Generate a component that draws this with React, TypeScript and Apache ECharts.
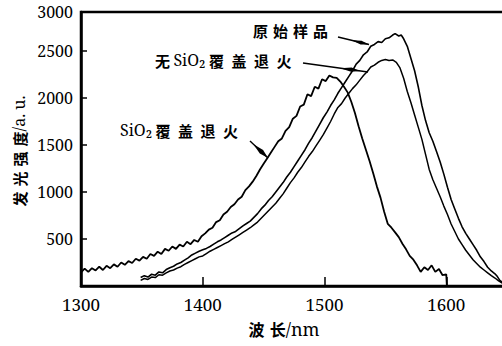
import React, { useEffect, useRef } from "react";
import * as echarts from "echarts";

// 波长 (nm) and 发光强度 (a.u.)
const waveA = [1300,1303,1306,1309,1312,1315,1318,1321,1324,1327,1330,1333,1336,1339,1342,1345,1348,1351,1354,1357,1360,1363,1366,1369,1372,1375,1378,1381,1384,1387,1390,1393,1396,1399,1402,1405,1408,1411,1414,1417,1420,1423,1426,1429,1432,1435,1438,1441,1444,1447,1450,1453,1456,1459,1462,1465,1468,1471,1474,1477,1480,1483,1486,1489,1492,1495,1498,1501,1504,1507,1510,1513,1516,1519,1522,1525,1528,1531,1534,1537,1540,1543,1546,1549,1552,1555,1558,1561,1564,1567,1570,1573,1576,1579,1582,1585,1588,1591,1594,1597,1600,1600.5];
const intensityA = [145,185,150,190,165,205,170,215,190,230,205,250,225,265,245,290,270,310,290,340,320,365,340,395,375,420,395,440,420,470,445,490,470,530,560,600,620,680,700,760,790,840,870,920,950,1020,1060,1110,1170,1240,1300,1360,1420,1480,1540,1570,1650,1690,1780,1810,1910,1930,2040,2020,2120,2100,2200,2180,2240,2220,2215,2175,2120,2060,1960,1840,1700,1570,1450,1330,1200,1060,940,790,660,620,570,520,450,390,320,280,220,150,200,170,220,150,180,115,125,0];

const waveB = [1349,1352,1355,1358,1361,1364,1367,1370,1373,1376,1379,1382,1385,1388,1391,1394,1397,1400,1403,1406,1409,1412,1415,1418,1421,1424,1427,1430,1433,1436,1439,1442,1445,1448,1451,1454,1457,1460,1463,1466,1469,1472,1475,1478,1481,1484,1487,1490,1493,1496,1499,1502,1505,1508,1511,1514,1517,1520,1523,1526,1529,1532,1535,1538,1541,1544,1547,1550,1553,1556,1558,1561,1563,1565,1568,1571,1574,1577,1580,1583,1586,1589,1592,1595,1598,1601,1604,1607,1610,1613,1616,1619,1622,1625,1628,1631,1634,1637,1640,1642,1644,1647];
const intensityB = [90,110,95,125,115,150,140,175,195,210,235,250,275,300,330,350,370,385,400,420,445,470,490,515,540,565,580,610,640,665,690,730,770,820,860,910,950,1000,1050,1100,1160,1210,1270,1330,1390,1450,1520,1580,1650,1720,1790,1850,1920,1980,2050,2110,2170,2230,2290,2360,2400,2460,2490,2550,2570,2600,2590,2630,2640,2670,2685,2660,2670,2630,2550,2420,2290,2120,1920,1760,1630,1540,1430,1320,1190,1050,920,820,720,630,560,500,440,380,310,260,200,160,130,100,60,30];

const waveC = [1349,1352,1355,1358,1361,1364,1367,1370,1373,1376,1379,1382,1385,1388,1391,1394,1397,1400,1403,1406,1409,1412,1415,1418,1421,1424,1427,1430,1433,1436,1439,1442,1445,1448,1451,1454,1457,1460,1463,1466,1469,1472,1475,1478,1481,1484,1487,1490,1493,1496,1499,1502,1505,1508,1511,1514,1517,1520,1523,1526,1529,1532,1535,1538,1541,1544,1547,1550,1553,1556,1559,1562,1565,1568,1571,1574,1577,1580,1583,1586,1589,1592,1595,1598,1601,1604,1607,1610,1613,1616,1619,1622,1625,1628,1631,1634,1637,1640,1643,1646];
const intensityC = [60,80,70,95,90,120,115,140,160,170,190,205,230,250,270,290,310,320,345,370,390,410,430,450,470,495,520,545,570,595,620,650,680,720,760,800,840,880,930,980,1040,1100,1150,1210,1260,1320,1380,1430,1490,1550,1610,1680,1750,1830,1900,1940,2000,2050,2100,2140,2190,2240,2280,2330,2350,2380,2400,2410,2400,2405,2380,2320,2210,2070,1950,1820,1690,1560,1400,1240,1130,1040,950,850,760,660,580,500,440,380,330,280,240,200,170,140,110,85,55,30];

const seriesNames = ["SiO₂ 覆盖退火", "原始样品", "无 SiO₂ 覆盖退火"];
const xTickLabels = [1300, 1400, 1500, 1600];
const yTickLabels = [500, 1000, 1500, 2000, 2500, 3000];
const xAxisTitle = ["波长", "/nm"];
const yAxisTitle = ["发光强度", "/a. u."];

const SERIF = "'Noto Serif', serif";
const CJK = "'Noto Sans CJK SC', sans-serif";
const S4 = "\u2004"; // three-per-em space
const S2 = "\u2002"; // en space

const zip = (xs: number[], ys: number[]) => xs.map((x, i) => [x, ys[i]]);
const spaced = (s: string, sp: string) => s.split("").join(sp);

function arrow(x1: number, y1: number, x2: number, y2: number, tipT: number, len: number, half: number) {
  const dx = x2 - x1, dy = y2 - y1;
  const L = Math.hypot(dx, dy);
  const ux = dx / L, uy = dy / L;
  const nx = -uy, ny = ux;
  const tx = x1 + dx * tipT, ty = y1 + dy * tipT;
  const mx = tx - ux * len * 0.45, my = ty - uy * len * 0.45;
  const bx = tx - ux * len, by = ty - uy * len;
  return [
    { type: "line", shape: { x1, y1, x2, y2 }, style: { stroke: "#000", lineWidth: 1.4 }, z: 100 },
    {
      type: "polygon",
      shape: { points: [[tx, ty], [mx + nx * half, my + ny * half], [bx, by], [mx - nx * half, my - ny * half]] },
      style: { fill: "#000" },
      z: 100,
    },
  ];
}

export default function App() {
  const ref = useRef<HTMLDivElement>(null);
  useEffect(() => {
    document.body.style.margin = "0";
    const chart = echarts.init(ref.current!, null, { renderer: "svg" });
    const Y_MAX = 2915;
    const cjk = { fontFamily: CJK, fontWeight: "bold", fontSize: 15, fill: "#000" };
    const ser = { fontFamily: SERIF, fontSize: 16, fill: "#000" };
    chart.setOption({
      animation: false,
      backgroundColor: "#fff",
      grid: {
        left: 81,
        top: 12,
        right: -10,
        bottom: 60,
        outerBoundsMode: "none",
        containLabel: false,
        show: true,
        borderColor: "#000",
        borderWidth: 2.5,
        backgroundColor: "transparent",
      },
      xAxis: {
        type: "value",
        min: 1300,
        max: 1654,
        interval: 100,
        splitLine: { show: false },
        axisLine: { show: true, lineStyle: { color: "#000", width: 2.5 } },
        axisTick: { show: true, inside: true, length: 9, lineStyle: { color: "#000", width: 1.5 } },
        axisLabel: {
          margin: 10,
          fontFamily: SERIF,
          fontSize: 17,
          color: "#000",
          formatter: (v: number) => (xTickLabels.includes(v) ? String(v) : ""),
        },
      },
      yAxis: {
        type: "value",
        min: 0,
        max: Y_MAX,
        interval: 500,
        splitLine: { show: false },
        axisLine: { show: true, lineStyle: { color: "#000", width: 2.5 } },
        axisTick: { show: true, inside: true, length: 6, lineStyle: { color: "#000", width: 1.5 } },
        axisLabel: {
          margin: 8,
          fontFamily: SERIF,
          fontSize: 16,
          color: "#000",
          formatter: (v: number) =>
            v === 0 ? "" : v > 2900 ? String(yTickLabels[yTickLabels.length - 1]) : yTickLabels.includes(v) ? String(v) : "",
        },
      },
      series: [
        { name: seriesNames[0], type: "line", data: zip(waveA, intensityA), showSymbol: false, lineStyle: { color: "#000", width: 1.8 }, clip: true },
        { name: seriesNames[1], type: "line", data: zip(waveB, intensityB), showSymbol: false, lineStyle: { color: "#000", width: 1.6 }, clip: true },
        { name: seriesNames[2], type: "line", data: zip(waveC, intensityC), showSymbol: false, lineStyle: { color: "#000", width: 1.5 }, clip: true },
      ],
      graphic: [
        {
          type: "text",
          x: 253,
          y: 30,
          style: { text: spaced("原始样品", S4), ...cjk, align: "left", verticalAlign: "middle" },
        },
        {
          type: "text",
          x: 155,
          y: 60,
          style: {
            text: `{c|无} {s|SiO₂} {c|${spaced("覆盖退火", S2)}}`,
            ...cjk,
            align: "left",
            verticalAlign: "middle",
            rich: { c: { ...cjk }, s: { ...ser } },
          },
        },
        {
          type: "text",
          x: 120,
          y: 130,
          style: {
            text: `{s|SiO₂} {c|${spaced("覆盖退火", S2)}}`,
            ...cjk,
            align: "left",
            verticalAlign: "middle",
            rich: { c: { ...cjk }, s: { ...ser } },
          },
        },
        {
          type: "text",
          x: 19,
          y: 151,
          rotation: Math.PI / 2,
          style: {
            text: `{c|${spaced(yAxisTitle[0], S4)}}{s|${yAxisTitle[1]}}`,
            ...cjk,
            align: "center",
            verticalAlign: "middle",
            rich: { c: { ...cjk }, s: { ...ser } },
          },
        },
        {
          type: "text",
          x: 284,
          y: 329,
          style: {
            text: `{c|${spaced(xAxisTitle[0], S4)}}{s|${xAxisTitle[1]}}`,
            ...cjk,
            align: "center",
            verticalAlign: "middle",
            rich: { c: { ...cjk, fontSize: 16 }, s: { ...ser, fontSize: 18 } },
          },
        },
        ...arrow(338, 37, 369, 44.5, 1, 18, 2),
        ...arrow(303, 63, 368, 72, 0.88, 20, 2.2),
        ...arrow(250, 141, 268, 158, 1, 20, 2.4),
      ],
    });
    return () => chart.dispose();
  }, []);
  return <div ref={ref} style={{ width: 502, height: 346, background: "#fff" }} />;
}
